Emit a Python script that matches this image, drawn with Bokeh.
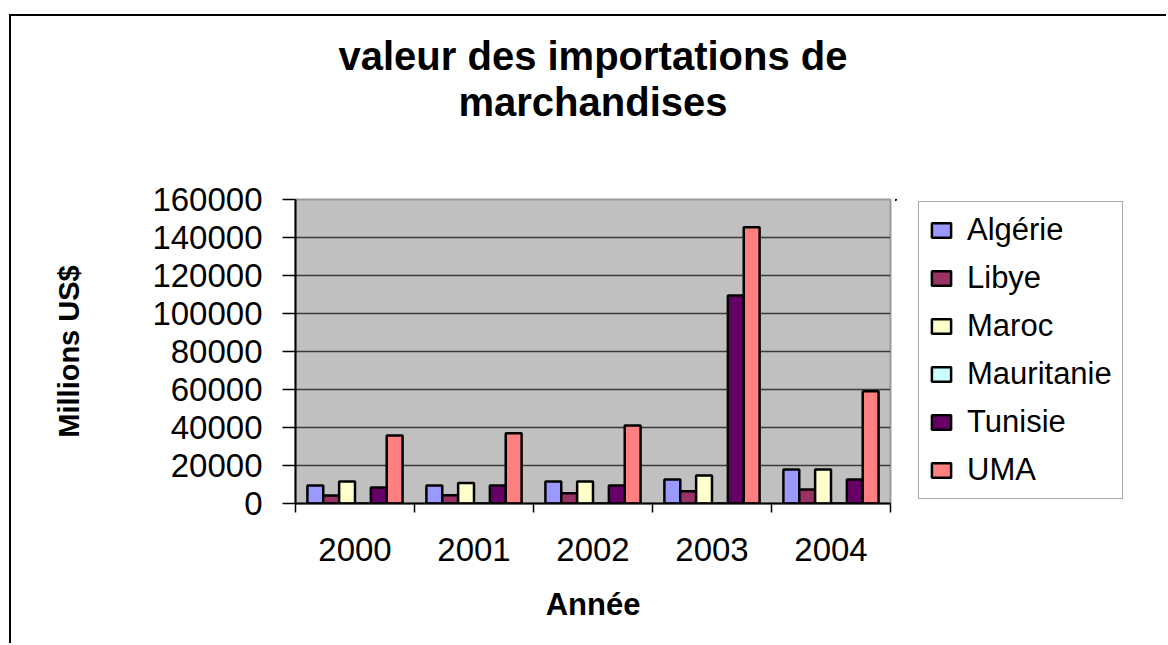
import math
from bokeh.plotting import figure
from bokeh.layouts import row
from bokeh.models import (Range1d, FixedTicker, BasicTickFormatter, Legend,
                          LegendItem, ColumnDataSource, Title)
from bokeh.transform import dodge
from bokeh.embed import file_html
from bokeh.resources import INLINE

# ---------------- data ----------------
years = ["2000", "2001", "2002", "2003", "2004"]
series_names = ["Algérie", "Libye", "Maroc", "Mauritanie", "Tunisie", "UMA"]
algerie = [9500, 9500, 11600, 12600, 17900]
libye = [4200, 4300, 5400, 6500, 7400]
maroc = [11600, 10800, 11600, 14700, 17900]
mauritanie = [0, 0, 0, 0, 0]
tunisie = [8400, 9500, 9500, 109500, 12600]
uma = [35800, 37000, 41000, 145400, 59100]
y_ticks = [0, 20000, 40000, 60000, 80000, 100000, 120000, 140000, 160000]

series_values = [algerie, libye, maroc, mauritanie, tunisie, uma]
colors = ["#9999FF", "#993366", "#FFFFCC", "#CCFFFF", "#660066", "#FF8080"]

FONT = "Liberation Sans"

centers = [i + 0.5 for i in range(len(years))]
data = {"x": centers}
keys = ["s%d" % k for k in range(len(series_names))]
for k, vals in zip(keys, series_values):
    data[k] = vals
source = ColumnDataSource(data)

H = 627
W1 = 884
W2 = 271
p = figure(width=W1, height=H, output_backend="svg", toolbar_location=None,
           x_range=Range1d(0, len(years)), y_range=Range1d(0, 160000),
           min_border_left=284, min_border_right=W1 - 879,
           min_border_top=183, min_border_bottom=H - 487,
           background_fill_color="#C0C0C0", border_fill_color="white",
           outline_line_color="#9a9a9a", outline_line_width=2)

# bars
n = len(series_names)
bw = 1.0 / 7.5
for k, (key, name, col) in enumerate(zip(keys, series_names, colors)):
    off = (k - (n - 1) / 2.0) * bw
    p.vbar(x=dodge("x", off, range=p.x_range), top=key, width=bw, bottom=0,
           source=source, fill_color=col, line_color="black", line_width=2.5)

# y axis
yax = p.yaxis[0]
yax.ticker = FixedTicker(ticks=y_ticks)
yax.formatter = BasicTickFormatter(use_scientific=False)
yax.major_label_text_font = FONT
yax.major_label_text_font_size = "33px"
yax.major_label_text_color = "black"
yax.major_tick_out = 13
yax.major_tick_in = 0
yax.major_tick_line_color = "black"
yax.major_tick_line_width = 1.5
yax.minor_tick_line_color = None
yax.axis_line_color = "black"
yax.axis_line_width = 2
yax.major_label_standoff = 20
yax.axis_label = "Millions US$"
yax.axis_label_text_font = FONT
yax.axis_label_text_font_size = "29px"
yax.axis_label_text_font_style = "bold"
yax.axis_label_text_color = "black"
yax.axis_label_standoff = 64

# x axis: labels at category centres, ticks between categories
xax = p.xaxis[0]
xax.ticker = FixedTicker(ticks=centers, minor_ticks=list(range(len(years) + 1)))
xax.major_label_overrides = {c: y for c, y in zip(centers, years)}
xax.major_label_text_font = FONT
xax.major_label_text_font_size = "33px"
xax.major_label_text_color = "black"
xax.major_tick_line_color = None
xax.major_tick_out = 0
xax.major_tick_in = 0
xax.minor_tick_line_color = "black"
xax.minor_tick_line_width = 1.5
xax.minor_tick_out = 9
xax.minor_tick_in = 0
xax.axis_line_color = "black"
xax.axis_line_width = 2
xax.major_label_standoff = 25
xax.axis_label = "Année"
xax.axis_label_text_font = FONT
xax.axis_label_text_font_size = "31px"
xax.axis_label_text_font_style = "bold"
xax.axis_label_text_color = "black"
xax.axis_label_standoff = 23

# grid
p.xgrid.grid_line_color = None
p.ygrid.ticker = FixedTicker(ticks=y_ticks[1:-1])
p.ygrid.grid_line_color = "#3a3a3a"
p.ygrid.grid_line_width = 1.3

# two-line title (first added sits nearest the frame); a tiny spacer first
p.add_layout(Title(text=" ", align="center", text_font_size="1px",
                   standoff=73), "above")
p.add_layout(Title(text="marchandises", align="center", text_font=FONT,
                   text_font_size="40px", text_font_style="bold",
                   text_color="black", standoff=0), "above")
p.add_layout(Title(text="valeur des importations de", align="center", text_font=FONT,
                   text_font_size="40px", text_font_style="bold",
                   text_color="black", standoff=0), "above")

# legend panel: an axis-less figure beside the chart, whose own bars share the
# data but lie outside its (empty) view, so only the legend shows
lg = figure(width=W2, height=H, output_backend="svg", toolbar_location=None,
            x_range=Range1d(10, 11), y_range=Range1d(-2, -1),
            x_axis_location=None, y_axis_location=None,
            min_border_left=0, min_border_right=0, min_border_top=0, min_border_bottom=0,
            background_fill_color="white", border_fill_color="white",
            outline_line_color=None)
lg.grid.visible = False
items = []
for key, name, col in zip(keys, series_names, colors):
    r = lg.vbar(x="x", top=key, width=bw, bottom=0, source=source,
                fill_color=col, line_color="black", line_width=2.5)
    items.append(LegendItem(label=name, renderers=[r]))

legend = Legend(items=items, location=(23, 4), orientation="vertical",
                label_text_font=FONT, label_text_font_size="31px",
                label_text_color="black",
                glyph_width=24, glyph_height=18, label_standoff=14,
                padding=10, spacing=12, margin=0,
                border_line_color="#555555", border_line_width=1.5,
                background_fill_color="white", background_fill_alpha=1.0)
lg.add_layout(legend, "center")

layout = row(p, lg, spacing=0,
             styles={"border-left": "2px solid black", "border-top": "2px solid black",
                     "margin-left": "9px", "margin-top": "14px"})

open("out.html", "w").write(file_html(layout, INLINE))
